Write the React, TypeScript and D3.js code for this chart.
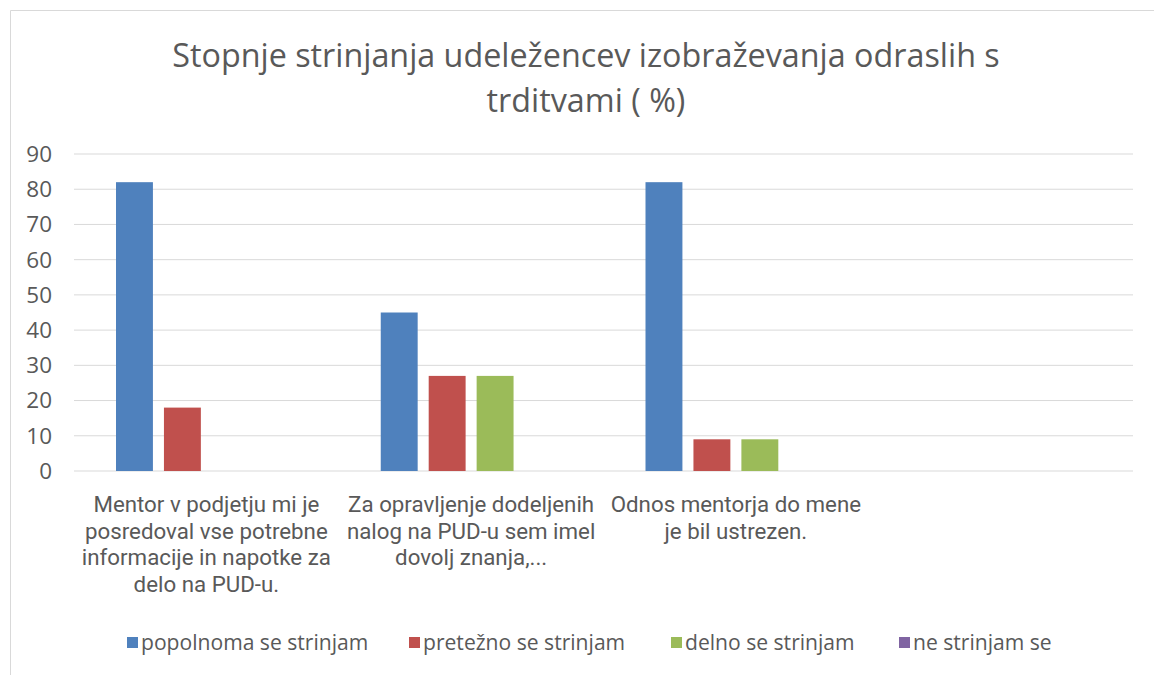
import React from "react";
import * as d3 from "d3";

const titleLines = ["Stopnje strinjanja udeležencev izobraževanja odraslih s", "trditvami ( %)"];
const categories = ["c1", "c2", "c3", "c4"];
const categoryLabels: string[][] = [
  ["Mentor v podjetju mi je", "posredoval vse potrebne", "informacije in napotke za", "delo na PUD-u."],
  ["Za opravljenje dodeljenih", "nalog na PUD-u sem imel", "dovolj znanja,..."],
  ["Odnos mentorja do mene", "je bil ustrezen."],
  [],
];
const seriesNames = ["popolnoma se strinjam", "pretežno se strinjam", "delno se strinjam", "ne strinjam se"];
const seriesColors = ["#4F81BD", "#C0504D", "#9BBB59", "#8064A2"];
const popolnoma = [82, 45, 82, 0];
const pretezno = [18, 27, 9, 0];
const delno = [0, 27, 9, 0];
const neStrinjam = [0, 0, 0, 0];
const seriesValues = [popolnoma, pretezno, delno, neStrinjam];
const yTicks = [0, 10, 20, 30, 40, 50, 60, 70, 80, 90];
const legendX = [127, 409, 671, 899];

const W = 1154, H = 675;
const left = 74, right = 1133, top = 154, bottom = 471;
const FONT = "'Open Sans', sans-serif";
const LABEL_FONT = "Roboto, sans-serif";
const TEXT = "#595959";

export default function App() {
  const x0 = d3.scaleBand<string>().domain(categories).range([left, right]).paddingInner(0).paddingOuter(0);
  const bw = x0.bandwidth();
  const x1 = d3.scaleBand<number>().domain([0, 1, 2, 3]).range([42, bw - 42]).paddingInner(0.23).paddingOuter(0);
  const y = d3.scaleLinear().domain([0, 90]).range([bottom, top]);

  return (
    <div style={{ position: "fixed", left: 0, top: 0 }}>
      <svg width={W} height={H} style={{ display: "block", fontFamily: FONT }}>
        <rect x={0} y={0} width={W} height={H} fill="#fff" />
        <path d={`M10.5,${H} V10.5 H${W}`} fill="none" stroke="#D9D9D9" strokeWidth={1} />
        {titleLines.map((t, i) => (
          <text key={i} x={586} y={67 + i * 45} textAnchor="middle" fontSize={32.3} fill={TEXT}>{t}</text>
        ))}
        {yTicks.map((t) => (
          <g key={t}>
            <line x1={left} x2={right} y1={y(t)} y2={y(t)} stroke="#D9D9D9" strokeWidth={1} />
            <text x={52} y={y(t)} dy="0.35em" textAnchor="end" fontSize={22.5} fill={TEXT}>{t}</text>
          </g>
        ))}
        {categories.map((c, ci) => (
          <g key={c}>
            {seriesValues.map((vals, si) => (
              <rect key={si} x={(x0(c) as number) + (x1(si) as number)} y={y(vals[ci])} width={x1.bandwidth()} height={y(0) - y(vals[ci])} fill={seriesColors[si]} />
            ))}
            {categoryLabels[ci].length > 0 && (
              <text textAnchor="middle" fontSize={22.3} fontFamily={LABEL_FONT} fill={TEXT}>
                {categoryLabels[ci].map((ln, li) => (
                  <tspan key={li} x={(x0(c) as number) + bw / 2} y={512 + li * 26.5}>{ln}</tspan>
                ))}
              </text>
            )}
          </g>
        ))}
        {seriesNames.map((s, i) => (
          <g key={s}>
            <rect x={legendX[i]} y={637} width={11} height={11} fill={seriesColors[i]} />
            <text x={legendX[i] + 14} y={643} dy="0.35em" fontSize={21.1} fill={TEXT}>{s}</text>
          </g>
        ))}
      </svg>
    </div>
  );
}
